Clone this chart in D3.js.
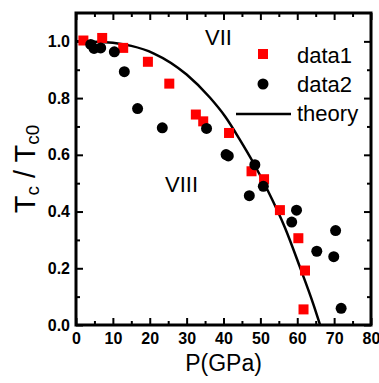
<!DOCTYPE html>
<html>
<head>
<meta charset="utf-8">
<script src="https://cdn.jsdelivr.net/npm/d3@7"></script>
<style>
  html, body { margin: 0; padding: 0; background: #fff; }
  text { font-family: Arial, "Liberation Sans", sans-serif; }
</style>
</head>
<body>
<div id="chart"></div>
<script>
// data1 (red squares)
const pressure1 = [2.0, 7.1, 12.8, 19.5, 25.3, 32.5, 34.5, 41.5, 47.6, 51.0, 55.3, 60.3, 62.1, 61.7];
const ratio1 = [1.003, 1.012, 0.977, 0.928, 0.851, 0.742, 0.718, 0.677, 0.542, 0.514, 0.405, 0.306, 0.192, 0.055];

// data2 (black circles)
const pressure2 = [4.0, 4.9, 6.7, 10.4, 13.1, 16.7, 23.4, 35.4, 40.7, 41.3, 47.0, 48.5, 50.8, 58.5, 59.8, 65.3, 69.9, 70.4, 71.9];
const ratio2 = [0.989, 0.975, 0.977, 0.963, 0.893, 0.763, 0.695, 0.693, 0.601, 0.596, 0.456, 0.565, 0.489, 0.363, 0.405, 0.260, 0.241, 0.333, 0.059];

// theory curve
const theoryP = [0, 5, 10, 15, 21, 30, 36.3, 40.4, 44.5, 48.1, 51.7, 56.7, 60.7, 64.4, 66.2];
const theoryR = [1.0, 0.999, 0.995, 0.984, 0.958, 0.883, 0.802, 0.736, 0.652, 0.572, 0.482, 0.342, 0.205, 0.072, 0.0];

// ticks
const xMajor = [0, 10, 20, 30, 40, 50, 60, 70, 80];
const xMinor = [5, 15, 25, 35, 45, 55, 65, 75];
const yMajor = [0.0, 0.2, 0.4, 0.6, 0.8, 1.0];
const yMinor = [0.1, 0.3, 0.5, 0.7, 0.9];

const width = 379, height = 383;
const margin = { left: 76, right: 8, top: 13, bottom: 58 };

const svg = d3.select('#chart').append('svg')
  .attr('width', width)
  .attr('height', height);

const x = d3.scaleLinear().domain([0, 80]).range([margin.left, width - margin.right]);
const y = d3.scaleLinear().domain([0, 1.1]).range([height - margin.bottom, margin.top]);

const x0 = margin.left, x1 = width - margin.right;
const y0 = height - margin.bottom, y1 = margin.top;

// clip for the theory line
svg.append('clipPath').attr('id', 'plotclip')
  .append('rect')
  .attr('x', x0).attr('y', y1)
  .attr('width', x1 - x0).attr('height', y0 - y1);

function styleAxis(g) {
  g.select('.domain').remove();
  g.selectAll('.tick line').attr('stroke', '#000').attr('stroke-width', 2);
  g.selectAll('.tick text')
    .attr('fill', '#000')
    .attr('font-size', 16)
    .attr('font-weight', 'bold')
    .attr('font-family', 'Arial, "Liberation Sans", sans-serif');
}

// bottom axis
svg.append('g')
  .attr('transform', `translate(0,${y0})`)
  .call(d3.axisBottom(x).tickValues(xMajor).tickSize(-7).tickPadding(8).tickFormat(d3.format('d')))
  .call(styleAxis);
svg.append('g')
  .attr('transform', `translate(0,${y0})`)
  .call(d3.axisBottom(x).tickValues(xMinor).tickSize(-4).tickFormat(''))
  .call(styleAxis);

// top axis
svg.append('g')
  .attr('transform', `translate(0,${y1})`)
  .call(d3.axisTop(x).tickValues(xMajor).tickSize(-7).tickFormat(''))
  .call(styleAxis);
svg.append('g')
  .attr('transform', `translate(0,${y1})`)
  .call(d3.axisTop(x).tickValues(xMinor).tickSize(-4).tickFormat(''))
  .call(styleAxis);

// left axis
svg.append('g')
  .attr('transform', `translate(${x0},0)`)
  .call(d3.axisLeft(y).tickValues(yMajor).tickSize(-7).tickPadding(6).tickFormat(d3.format('.1f')))
  .call(styleAxis);
svg.append('g')
  .attr('transform', `translate(${x0},0)`)
  .call(d3.axisLeft(y).tickValues(yMinor).tickSize(-4).tickFormat(''))
  .call(styleAxis);

// right axis
svg.append('g')
  .attr('transform', `translate(${x1},0)`)
  .call(d3.axisRight(y).tickValues(yMajor).tickSize(-7).tickFormat(''))
  .call(styleAxis);
svg.append('g')
  .attr('transform', `translate(${x1},0)`)
  .call(d3.axisRight(y).tickValues(yMinor).tickSize(-4).tickFormat(''))
  .call(styleAxis);

// frame
svg.append('rect')
  .attr('x', x0).attr('y', y1)
  .attr('width', x1 - x0).attr('height', y0 - y1)
  .attr('fill', 'none')
  .attr('stroke', '#000')
  .attr('stroke-width', 3);

// theory line
const theory = theoryP.map((p, i) => [p, theoryR[i]]);
svg.append('path')
  .datum(theory)
  .attr('clip-path', 'url(#plotclip)')
  .attr('fill', 'none')
  .attr('stroke', '#000')
  .attr('stroke-width', 2.5)
  .attr('d', d3.line().x(d => x(d[0])).y(d => y(d[1])).curve(d3.curveMonotoneX));

// data1 squares
const sq = 10;
svg.append('g').selectAll('rect')
  .data(pressure1.map((p, i) => [p, ratio1[i]]))
  .join('rect')
  .attr('x', d => x(d[0]) - sq / 2)
  .attr('y', d => y(d[1]) - sq / 2)
  .attr('width', sq).attr('height', sq)
  .attr('fill', '#ff0000');

// data2 circles
svg.append('g').selectAll('circle')
  .data(pressure2.map((p, i) => [p, ratio2[i]]))
  .join('circle')
  .attr('cx', d => x(d[0]))
  .attr('cy', d => y(d[1]))
  .attr('r', 5.5)
  .attr('fill', '#000');

// phase labels
svg.append('text').attr('x', 205).attr('y', 45)
  .attr('font-size', 22).text('VII');
svg.append('text').attr('x', 165).attr('y', 192)
  .attr('font-size', 22).text('VIII');

// legend
const legend = svg.append('g');
legend.append('rect').attr('x', 258).attr('y', 49).attr('width', sq).attr('height', sq).attr('fill', '#ff0000');
legend.append('text').attr('x', 297).attr('y', 63).attr('font-size', 22).text('data1');
legend.append('circle').attr('cx', 263).attr('cy', 84).attr('r', 5.5).attr('fill', '#000');
legend.append('text').attr('x', 297).attr('y', 92).attr('font-size', 22).text('data2');
legend.append('line').attr('x1', 236).attr('x2', 291).attr('y1', 114).attr('y2', 114)
  .attr('stroke', '#000').attr('stroke-width', 2.5);
legend.append('text').attr('x', 297).attr('y', 121).attr('font-size', 22).text('theory');

// axis titles
svg.append('text')
  .attr('x', (x0 + x1) / 2).attr('y', 371)
  .attr('text-anchor', 'middle')
  .attr('font-size', 23)
  .text('P(GPa)');

const yTitle = svg.append('text')
  .attr('transform', `translate(35,${(y0 + y1) / 2}) rotate(-90)`)
  .attr('text-anchor', 'middle')
  .attr('font-size', 29);
yTitle.append('tspan').text('T');
yTitle.append('tspan').attr('font-size', 19).attr('dy', 4).text('c');
yTitle.append('tspan').attr('dy', -4).text(' / T');
yTitle.append('tspan').attr('font-size', 19).attr('dy', 4).text('c0');
</script>
</body>
</html>
